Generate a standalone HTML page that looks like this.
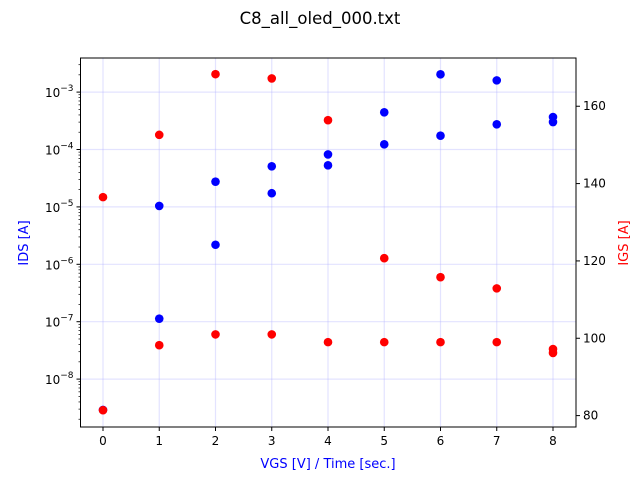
<!DOCTYPE html>
<html><head><meta charset="utf-8"><style>
html,body{margin:0;padding:0;background:#fff;}
svg{display:block;font-family:"DejaVu Sans","Liberation Sans",sans-serif;}
</style></head><body>
<svg id="chart" width="640" height="480" xmlns="http://www.w3.org/2000/svg">
<text x="320" y="24" font-size="16.5" text-anchor="middle">C8_all_oled_000.txt</text>
<g id="grid"></g>
<g id="axes"></g>
<g id="marks"></g>
<rect x="80.5" y="58" width="495.5" height="369" fill="none" stroke="#000" stroke-width="1"/>
<text x="328" y="468" font-size="13" fill="#0000ff" text-anchor="middle">VGS [V] / Time [sec.]</text>
<text transform="translate(28,243) rotate(-90)" font-size="13" fill="#0000ff" text-anchor="middle">IDS [A]</text>
<text transform="translate(628,243) rotate(-90)" font-size="13" fill="#ff0000" text-anchor="middle">IGS [A]</text>
</svg>
<script>
const xCats = [0,1,2,3,4,5,6,7,8];
const idsX = [0,1,1,2,2,3,3,4,4,5,5,6,6,7,7,8,8];
const idsVals = [2.9e-9,1.04e-5,1.13e-7,2.75e-5,2.19e-6,5.1e-5,1.73e-5,8.2e-5,5.3e-5,4.45e-4,1.23e-4,2.04e-3,1.74e-4,1.6e-3,2.75e-4,3.68e-4,3.01e-4];
const igsX = [0,0,1,1,2,2,3,3,4,4,5,5,6,6,7,7,8,8];
const igsVals = [81.4,136.5,152.6,98.2,168.3,101.0,167.2,101.0,156.4,99.0,120.7,99.0,115.8,99.0,112.9,99.0,97.2,96.2];
const leftTickExps = [-8,-7,-6,-5,-4,-3];
const rightTicks = [80,100,120,140,160];

const NS="http://www.w3.org/2000/svg";
const L=80.5,R=576,T=58,B=427;
function xs(v){return 103+v*56.25;}
function yl(v){return 92.1-(Math.log10(v)+3)*57.4;}
function yr(v){return 415.6-(v-80)*3.867;}
function mk(tag,attrs,parent){const e=document.createElementNS(NS,tag);for(const k in attrs)e.setAttribute(k,attrs[k]);parent.appendChild(e);return e;}
const grid=document.getElementById('grid'),axes=document.getElementById('axes'),marks=document.getElementById('marks');

xCats.forEach(c=>{
  const x=xs(c);
  const g=mk('line',{x1:x,x2:x,y1:T,y2:B,stroke:'#b0b0ff','stroke-opacity':0.35,'stroke-width':1.2},grid);
  
  
  const t=mk('line',{x1:x,x2:x,y1:B,y2:B+4,stroke:'#000'},axes);
  
  
  const l=mk('text',{x:x,y:B+18,'font-size':12,'text-anchor':'middle'},axes);
  l.textContent=String(c);
  
  
});
leftTickExps.forEach(e=>{
  const y=yl(Math.pow(10,e));
  const g=mk('line',{x1:L,x2:R,y1:y,y2:y,stroke:'#b0b0ff','stroke-opacity':0.35,'stroke-width':1.2},grid);
  
  
  const t=mk('line',{x1:L-4,x2:L,y1:y,y2:y,stroke:'#000'},axes);
  
  
  const l=mk('text',{x:L-7,y:y+5,'font-size':12,'text-anchor':'end'},axes);
  l.textContent='10';
  const s=mk('tspan',{dy:-6,'font-size':9},l);
  s.textContent=String(e).replace('-','\u2212');
  
  
});
for(let e=-9;e<=-3;e++){for(let m=2;m<=9;m++){
  const y=yl(m*Math.pow(10,e)); if(y<T||y>B)continue;
  const t=mk('line',{x1:L-2,x2:L,y1:y,y2:y,stroke:'#000','stroke-width':0.7},axes);
  
  
}}
rightTicks.forEach(v=>{
  const y=yr(v);
  const t=mk('line',{x1:R,x2:R+4,y1:y,y2:y,stroke:'#000'},axes);
  
  
  const l=mk('text',{x:R+7,y:y+4,'font-size':12},axes);
  l.textContent=String(v);
  
  
});
idsVals.forEach((v,i)=>{
  const c=mk('circle',{cx:xs(idsX[i]),cy:yl(v),r:4.3,fill:'#0000ff'},marks);
  
  
});
igsVals.forEach((v,i)=>{
  const c=mk('circle',{cx:xs(igsX[i]),cy:yr(v),r:4.3,fill:'#ff0000'},marks);
  
  
});
</script>
</body></html>
